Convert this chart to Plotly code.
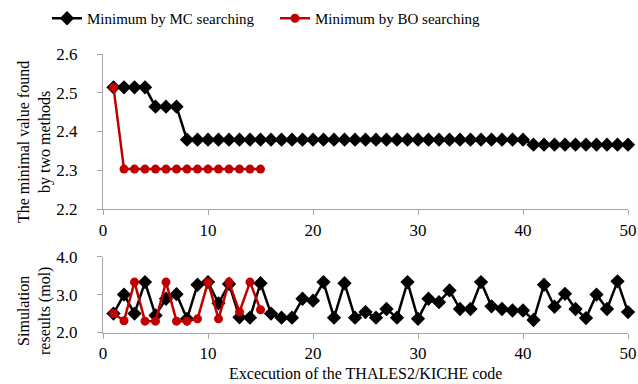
import plotly.graph_objects as go

# ---- data ----
mc_x = list(range(1, 51))
mc_min = [2.514, 2.514, 2.514, 2.514, 2.464, 2.464, 2.464] + [2.379] * 33 + [2.366] * 10
bo_x = list(range(1, 16))
bo_min = [2.514] + [2.303] * 14

mc_sim = [2.50, 3.00, 2.50, 3.33, 2.45, 2.89, 3.01, 2.36, 3.26, 3.33,
          2.77, 3.28, 2.40, 2.39, 3.30, 2.50, 2.39, 2.39, 2.89, 2.84,
          3.33, 2.39, 3.30, 2.39, 2.54, 2.39, 2.62, 2.39, 3.33, 2.36,
          2.89, 2.80, 3.11, 2.62, 2.62, 3.33, 2.69, 2.62, 2.58, 2.58,
          2.33, 3.26, 2.68, 3.02, 2.62, 2.38, 3.00, 2.62, 3.35, 2.54]
bo_sim = [2.50, 2.31, 3.33, 2.30, 2.30, 3.33, 2.30, 2.30, 2.36, 3.33,
          2.36, 3.33, 2.54, 3.33, 2.60]

x_ticks = [0, 10, 20, 30, 40, 50]
top_ticks = [2.2, 2.3, 2.4, 2.5, 2.6]
bot_ticks = [2.0, 3.0, 4.0]

BLACK = "#000000"
RED = "#c00000"
FONT = "Liberation Serif"

fig = go.Figure()
fig.add_trace(go.Scatter(x=mc_x, y=mc_min, mode="lines+markers", name="Minimum by MC searching",
                         line=dict(color=BLACK, width=2.5),
                         marker=dict(symbol="diamond", size=11, color=BLACK),
                         xaxis="x", yaxis="y", cliponaxis=False))
fig.add_trace(go.Scatter(x=bo_x, y=bo_min, mode="lines+markers", name="Minimum by BO searching",
                         line=dict(color=RED, width=2.5),
                         marker=dict(symbol="circle", size=9, color=RED),
                         xaxis="x", yaxis="y", cliponaxis=False))
fig.add_trace(go.Scatter(x=mc_x, y=mc_sim, mode="lines+markers", showlegend=False,
                         line=dict(color=BLACK, width=2.5),
                         marker=dict(symbol="diamond", size=11, color=BLACK),
                         xaxis="x2", yaxis="y2", cliponaxis=False))
fig.add_trace(go.Scatter(x=bo_x, y=bo_sim, mode="lines+markers", showlegend=False,
                         line=dict(color=RED, width=2.5),
                         marker=dict(symbol="circle", size=9, color=RED),
                         xaxis="x2", yaxis="y2", cliponaxis=False))

W, H = 638, 384
xdom = [103 / W, 628 / W]
axis_common = dict(showline=True, linecolor="#a6a6a6", linewidth=1.3, ticks="outside",
                   tickcolor="#a6a6a6", ticklen=5, showgrid=False, zeroline=False,
                   tickfont=dict(family=FONT, size=17, color="#000000"))

fig.update_layout(
    width=W, height=H,
    margin=dict(l=0, r=0, t=0, b=0, autoexpand=False),
    paper_bgcolor="white", plot_bgcolor="white",
    font=dict(family=FONT, size=16, color="#000000"),
    xaxis=dict(domain=xdom, range=[0, 50], tickvals=x_ticks, anchor="y", **axis_common),
    yaxis=dict(domain=[1 - 209 / H, 1 - 54 / H], range=[2.2, 2.6], tickvals=top_ticks,
               tickformat=".1f", anchor="x", ticklabelstandoff=16, **axis_common),
    xaxis2=dict(domain=xdom, range=[0, 50], tickvals=x_ticks, anchor="y2", **axis_common),
    yaxis2=dict(domain=[1 - 332.5 / H, 1 - 256.7 / H], range=[2.0, 4.0], tickvals=bot_ticks,
                tickformat=".1f", anchor="x2", ticklabelstandoff=16, **axis_common),
    legend=dict(orientation="h", x=47 / W, xanchor="left", y=1 - 2 / H, yanchor="top",
                font=dict(family=FONT, size=15), entrywidth=183, itemwidth=30,
                bgcolor="rgba(0,0,0,0)"),
    showlegend=True,
)

fig.add_annotation(text="The minimal value found<br>by two methods", textangle=-90,
                   x=34 / W, y=1 - 142 / H, xref="paper", yref="paper",
                   xanchor="center", yanchor="middle",
                   showarrow=False, font=dict(family=FONT, size=16))
fig.add_annotation(text="Simulation<br>reseults (mol)", textangle=-90,
                   x=34 / W, y=1 - 311 / H, xref="paper", yref="paper",
                   xanchor="center", yanchor="middle",
                   showarrow=False, font=dict(family=FONT, size=16))
fig.add_annotation(text="Excecution of the THALES2/KICHE code",
                   x=(103 + 628) / 2 / W, y=1 - 373 / H, xref="paper", yref="paper",
                   xanchor="center", yanchor="middle",
                   showarrow=False, font=dict(family=FONT, size=16))

fig.write_html("out.html", config={"displayModeBar": False},
               post_script="document.body.style.margin='0px';")
